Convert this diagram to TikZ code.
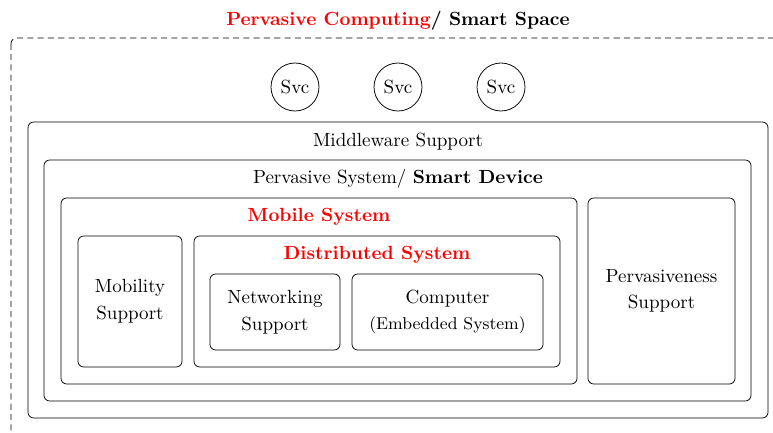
\documentclass[tikz,border=0pt]{standalone}
\usetikzlibrary{fit}
\begin{document}
\begin{tikzpicture}[x=0.525pt,y=-0.525pt,
    box/.style={draw, rounded corners=3pt, inner sep=0pt},
    svc/.style={draw, circle, minimum size=25.2pt, inner sep=0pt}]
  \clip (0,0) rectangle (773,433);
  % smart space (runs off the page)
  \draw[dash pattern=on 3.2pt off 2.2pt, rounded corners=3pt] (11,38) rectangle (800,460);
  \node (title) at (398,21) {\textbf{\textcolor{red}{Pervasive Computing}/ Smart Space}};
  \foreach \x/\n in {295/a,398/b,501/c}
    \node[svc] (svc\n) at (\x,87) {Svc};
  % nested layers
  \node[box, fit={(28,122) (768,418)}] (mware) {};
  \node (mwlabel) at (398,142) {Middleware Support};
  \node[box, fit={(44,160) (751,401)}] (psys) {};
  \node (pslabel) at (398,179) {Pervasive System/ \textbf{Smart Device}};
  \node[box, fit={(61,198) (577,384)}] (msys) {};
  \node (mslabel) at (319,217) {\textbf{\textcolor{red}{Mobile System}}};
  \node[box, fit={(588,198) (735,384)}] (pvsup) {};
  \node[align=center] (pvtext) at (pvsup.center) {Pervasiveness\\[2pt]Support};
  \node[box, fit={(78,236) (182,367)}] (mobsup) {};
  \node[align=center] (mobtext) at (mobsup.center) {Mobility\\[2pt]Support};
  \node[box, fit={(194,236) (560,367)}] (dsys) {};
  \node (dslabel) at (377,255) {\textbf{\textcolor{red}{Distributed System}}};
  \node[box, fit={(210,274) (340,350)}] (netsup) {};
  \node[align=center] (nettext) at (netsup.center) {Networking\\[2pt]Support};
  \node[box, fit={(352,274) (543,350)}] (comp) {};
  \node[align=center] (comptext) at (comp.center) {Computer\\[2pt]{\small (Embedded System)}};
\end{tikzpicture}
\end{document}
